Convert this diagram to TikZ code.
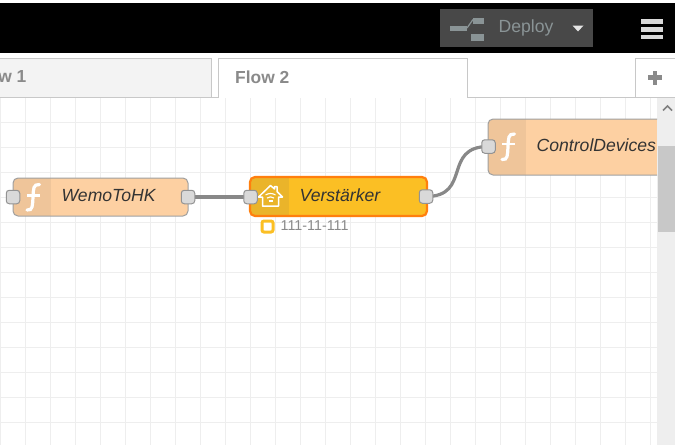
\documentclass[tikz,border=0pt]{standalone}
\usepackage{fontspec}
\setmainfont{Liberation Sans}
\definecolor{gridc}{HTML}{EEEEEE}
\definecolor{tabline}{HTML}{C8C8C8}
\definecolor{fnbody}{HTML}{FDD0A2}
\definecolor{fnicon}{HTML}{EFC59A}
\definecolor{hkbody}{HTML}{FBBF24}
\definecolor{hkicon}{HTML}{EAB42A}
\definecolor{hkedge}{HTML}{FF7F0E}
\definecolor{portc}{HTML}{D9D9D9}
\definecolor{wirec}{HTML}{888888}
\definecolor{labelc}{HTML}{333333}
\definecolor{mutedc}{HTML}{8A8A8A}
\definecolor{deployc}{HTML}{484848}
\definecolor{deployg}{HTML}{8A9496}
\tikzset{
  x=1pt,y=-1pt,
  portbox/.style={draw=gray!85,line width=1pt,fill=portc,rounded corners=3pt,minimum size=13.5pt,inner sep=0pt},
  nodelabel/.style={font=\itshape\fontsize{17.6}{20}\selectfont,text=labelc,anchor=west,inner sep=0pt},
  wire/.style={draw=wirec,line width=3.2pt},
  fglyph/.style={draw=white,line width=3.2pt,line cap=round},
  tabedge/.style={draw=tabline,line width=1pt},
}
\begin{document}
\begin{tikzpicture}
\useasboundingbox (0,0) rectangle (675,445);
\fill[white] (0,0) rectangle (675,445);
% grid
\foreach \gx in {0.5,25.5,...,650.5} \draw[gridc,line width=1pt] (\gx,98) -- (\gx,445);
\foreach \gy in {122,147,...,447} \draw[gridc,line width=1pt] (0,\gy) -- (657,\gy);
% header
\fill[black] (0,2.5) rectangle (675,53);
\fill[deployc] (440,9) rectangle (593,47);
\fill[deployg] (450,26) rectangle (467,31);
\draw[deployg,line width=1.2pt] (467,28) -- (473,19.5);
\fill[deployg] (473,18) rectangle (484,24);
\fill[deployg] (471,34) rectangle (484,41);
\node[font=\fontsize{17.6}{20}\selectfont,text=deployg,anchor=west,inner sep=0pt] (deploy) at (498.5,28) {Deploy};
\fill[white!90!black] (572.5,25.5) -- (583.5,25.5) -- (578,31.5) -- cycle;
\foreach \hy in {19,27,34.5} \fill[white!85!black] (641,\hy) rectangle (663,\hy+4.5);
% tabs
\fill[gridc!70!white] (0,58) rectangle (211,97);
\draw[tabedge] (0,58) -- (211,58) -- (211,97);
\draw[tabedge] (0,97) -- (218,97) -- (218,58) -- (467,58) -- (467,97) -- (675,97);
\draw[tabedge] (675,58) -- (635.5,58) -- (635.5,97);
\node[font=\bfseries\fontsize{17.4}{20}\selectfont,text=mutedc,anchor=east,inner sep=0pt] (flowone) at (26.5,77) {w 1};
\node[font=\bfseries\fontsize{17.4}{20}\selectfont,text=mutedc,anchor=west,inner sep=0pt] (flowtwo) at (235,77) {Flow 2};
\fill[mutedc] (648,75.2) rectangle (662,79.8);
\fill[mutedc] (652.7,70.5) rectangle (657.3,84.5);
% scrollbar
\fill[gridc] (657,98) rectangle (675,445);
\fill[tabline] (658,146) rectangle (675,232);
\draw[gray,line width=1.6pt] (663,110.5) -- (667.5,106) -- (672,110.5);
% nodes: function 1
\begin{scope}
\path[clip,rounded corners=5pt] (13,178) rectangle (188,216);
\fill[fnbody] (13,178) rectangle (188,216);
\fill[fnicon] (13,178) rectangle (51,216);
\end{scope}
\draw[gray!75,line width=1pt,rounded corners=5pt] (13,178) rectangle (188,216);
\draw[fglyph] (27,210) .. controls (33,211) and (32.5,205) .. (33,197) .. controls (33.5,189) and (33,184) .. (39.5,184.5);
\draw[white,line width=2.6pt] (27,195.5) -- (39.5,195.5);
\node[nodelabel] (wemo) at (61.5,196) {WemoToHK};
% node 2
\begin{scope}
\path[clip,rounded corners=5pt] (250,177) rectangle (427,216);
\fill[hkbody] (250,177) rectangle (427,216);
\fill[hkicon] (250,177) rectangle (289,216);
\end{scope}
\draw[hkedge,line width=2.2pt,rounded corners=5pt] (250,177) rectangle (427,216);
\draw[white,line width=1.5pt,line join=round] (258.5,197) -- (270.5,185.5) -- (274.5,189) -- (274.5,186.5) -- (277,186.5) -- (277,191.5) -- (282.5,197) -- (278.5,197) -- (278.5,206) -- (262.5,206) -- (262.5,197) -- cycle;
\draw[white,line width=1.1pt] (265.5,195) .. controls (268,193) and (273,193) .. (275.5,195);
\draw[white,line width=1.1pt] (267,198) .. controls (269,196.5) and (272,196.5) .. (274,198);
\draw[white,line width=1.1pt] (268.5,201) -- (272.5,201);
\node[nodelabel] (verst) at (299.5,195.5) {Verstärker};
\draw[hkbody,fill=white,line width=3pt,rounded corners=2pt] (262,221) rectangle (273,232);
\node[font=\fontsize{14.3}{16}\selectfont,text=mutedc,anchor=west,inner sep=0pt] (status) at (280.5,226) {111-11-111};
% node 3
\begin{scope}
\path[clip,rounded corners=5pt] (488,119) rectangle (680,175);
\fill[fnbody] (488,119) rectangle (657,175);
\fill[fnicon] (488,119) rectangle (526,175);
\end{scope}
\draw[gray!75,line width=1pt,rounded corners=5pt] (657,119) -- (488,119) -- (488,175) -- (657,175);
\draw[fglyph] (502,159.5) .. controls (508,160.5) and (507.5,154.5) .. (508,146.5) .. controls (508.5,138.5) and (508,133.5) .. (514.5,134);
\draw[white,line width=2.6pt] (502,144) -- (514.5,144);
\node[nodelabel] (ctrl) at (536.5,145.5) {ControlDevices};
% wires drawn between named ports, then ports on top
\coordinate (w1outc) at (188,197);
\coordinate (v2inc) at (250.5,197);
\coordinate (v2outc) at (426,196.5);
\coordinate (c3inc) at (488.5,146.5);
\draw[wire] (w1outc) -- (v2inc);
\draw[wire] (v2outc) .. controls (472,196.5) and (442,146.5) .. (c3inc);
\node[portbox] (w1in) at (13,197) {};
\node[portbox] (w1out) at (w1outc) {};
\node[portbox] (v2in) at (v2inc) {};
\node[portbox] (v2out) at (v2outc) {};
\node[portbox] (c3in) at (c3inc) {};
\end{tikzpicture}
\end{document}
